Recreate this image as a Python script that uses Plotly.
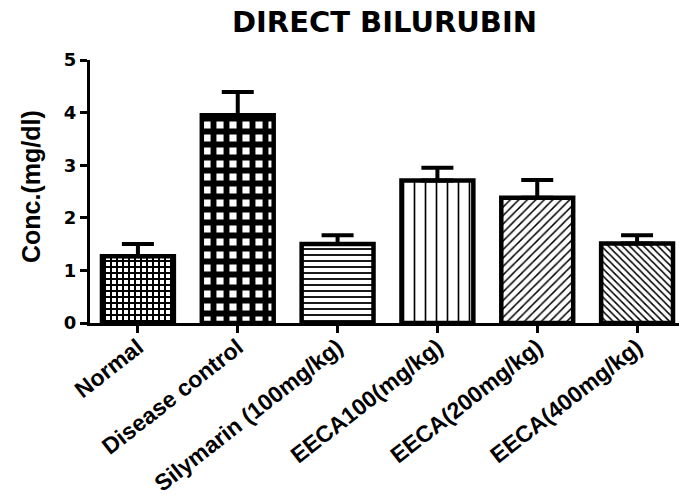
import plotly.graph_objects as go

categories = ["Normal", "Disease control", "Silymarin (100mg/kg)", "EECA100(mg/kg)", "EECA(200mg/kg)", "EECA(400mg/kg)"]
means = [1.27, 3.95, 1.50, 2.71, 2.38, 1.51]
sem_up = [0.23, 0.44, 0.17, 0.24, 0.34, 0.16]
patterns = ["+", "+", "-", "|", "/", "\\"]
pattern_sizes = [6, 13, 6, 11, 6, 5]
pattern_solidity = [0.55, 0.7, 0.3, 0.15, 0.25, 0.3]

fig = go.Figure()
fig.add_trace(go.Bar(
    x=categories,
    y=means,
    width=0.72,
    marker=dict(
        color="white",
        line=dict(color="black", width=4.5),
        pattern=dict(shape=patterns, size=pattern_sizes, solidity=pattern_solidity,
                     fgcolor="black", bgcolor="white", fillmode="replace"),
    ),
    error_y=dict(type="data", symmetric=False, array=sem_up, arrayminus=[0] * len(sem_up),
                 color="black", thickness=4, width=16),
    showlegend=False,
))

fig.update_layout(
    width=681, height=499,
    margin=dict(l=90, r=2, t=60, b=176),
    paper_bgcolor="white", plot_bgcolor="white",
    title=dict(text="<b>DIRECT BILURUBIN</b>", x=0.5, xref="paper", y=1 - 22 / 499, yref="container",
               xanchor="center", yanchor="middle",
               font=dict(family="DejaVu Sans", size=29, color="black")),
    font=dict(family="DejaVu Sans", color="black"),
    bargap=0.28,
)
fig.update_xaxes(
    range=[-0.48, 5.42], showline=True, linecolor="black", linewidth=3,
    ticks="outside", ticklen=7, tickwidth=3, tickcolor="black",
    tickangle=-38, automargin=False, ticklabelstandoff=-8,
    tickfont=dict(family="Liberation Sans", size=23, color="black", weight="bold"),
    showgrid=False, zeroline=False,
)
fig.update_yaxes(
    range=[0, 5], dtick=1, showline=True, linecolor="black", linewidth=3,
    ticks="outside", ticklen=7, tickwidth=3, tickcolor="black", automargin=False,
    tickfont=dict(family="DejaVu Sans", size=18, color="black", weight="bold"),
    showgrid=False, zeroline=False,
)
fig.add_annotation(
    text="<b>Conc.(mg/dl)</b>", textangle=-90,
    xref="paper", yref="paper", x=(31 - 90) / 589, y=(323 - 187) / 263,
    xanchor="center", yanchor="middle", showarrow=False,
    font=dict(family="Liberation Sans Narrow, Liberation Sans", size=25, color="black"),
)

fig.write_html("out.html")
